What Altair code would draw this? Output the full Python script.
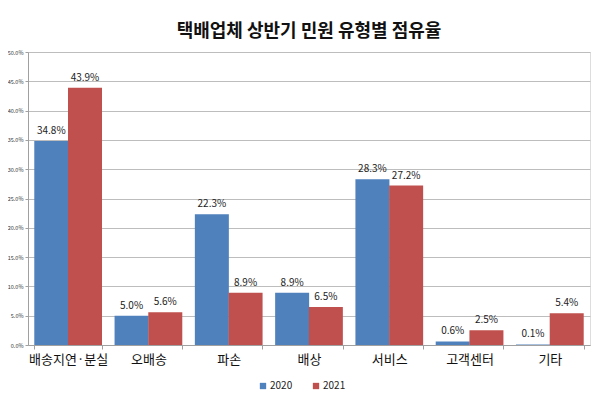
import altair as alt
import pandas as pd

categories = ["배송지연·분실", "오배송", "파손", "배상", "서비스", "고객센터", "기타"]
years = ["2020", "2021"]
values_2020 = [34.8, 5.0, 22.3, 8.9, 28.3, 0.6, 0.1]
values_2021 = [43.9, 5.6, 8.9, 6.5, 27.2, 2.5, 5.4]
y_ticks = [0, 0.05, 0.10, 0.15, 0.20, 0.25, 0.30, 0.35, 0.40, 0.45, 0.50]

rows = []
for c, a, b in zip(categories, values_2020, values_2021):
    rows.append({"cat": c, "year": "2020", "v": a / 100})
    rows.append({"cat": c, "year": "2021", "v": b / 100})
df = pd.DataFrame(rows)

font = "Noto Sans CJK KR"

x = alt.X("cat:N", sort=categories, title=None,
          scale=alt.Scale(paddingInner=0.16, paddingOuter=0.08),
          axis=alt.Axis(labelAngle=0, labelFont=font, labelFontSize=13, labelColor="#111",
                        labelPadding=4, tickBand="extent", tickSize=4, tickColor="#a0a0a0",
                        domainColor="#a0a0a0", grid=False))
y = alt.Y("v:Q", title=None,
          scale=alt.Scale(domain=[0, 0.5], nice=False),
          axis=alt.Axis(values=y_ticks, format=".1%", labelFont=font, labelFontSize=5.5,
                        labelColor="#333", tickSize=3, tickColor="#a0a0a0", domainColor="#a0a0a0",
                        gridColor="#bdbdbd", labelPadding=2, labelOverlap=False,
                        labelFlush=False))

base = alt.Chart(df).encode(
    x=x,
    xOffset=alt.XOffset("year:N", sort=years),
    y=y,
)

bars = base.mark_bar(size=34).encode(
    color=alt.Color("year:N", sort=years,
                    scale=alt.Scale(domain=years, range=["#4F81BD", "#C0504D"]),
                    legend=alt.Legend(title=None, orient="none", direction="horizontal",
                                      legendX=230, legendY=329, symbolType="square",
                                      symbolSize=40, labelFont=font, labelFontSize=10,
                                      labelColor="#222", columnPadding=18, labelOffset=2)),
)

labels = base.mark_text(dy=-10, font=font, fontSize=10, color="#222").encode(
    text=alt.Text("v:Q", format=".1%"),
)

chart = (bars + labels).properties(
    width=562,
    height=293,
    title=alt.TitleParams("택배업체 상반기 민원 유형별 점유율", font=font, fontSize=18,
                          fontWeight="bold", color="#111", offset=9, anchor="middle"),
    autosize=alt.AutoSizeParams(type="none"),
    padding={"left": 20, "top": 44, "right": 2, "bottom": 50},
).configure_view(stroke=None).configure(background="white")

chart.save("out.html", embed_options={"renderer": "svg", "actions": False})
